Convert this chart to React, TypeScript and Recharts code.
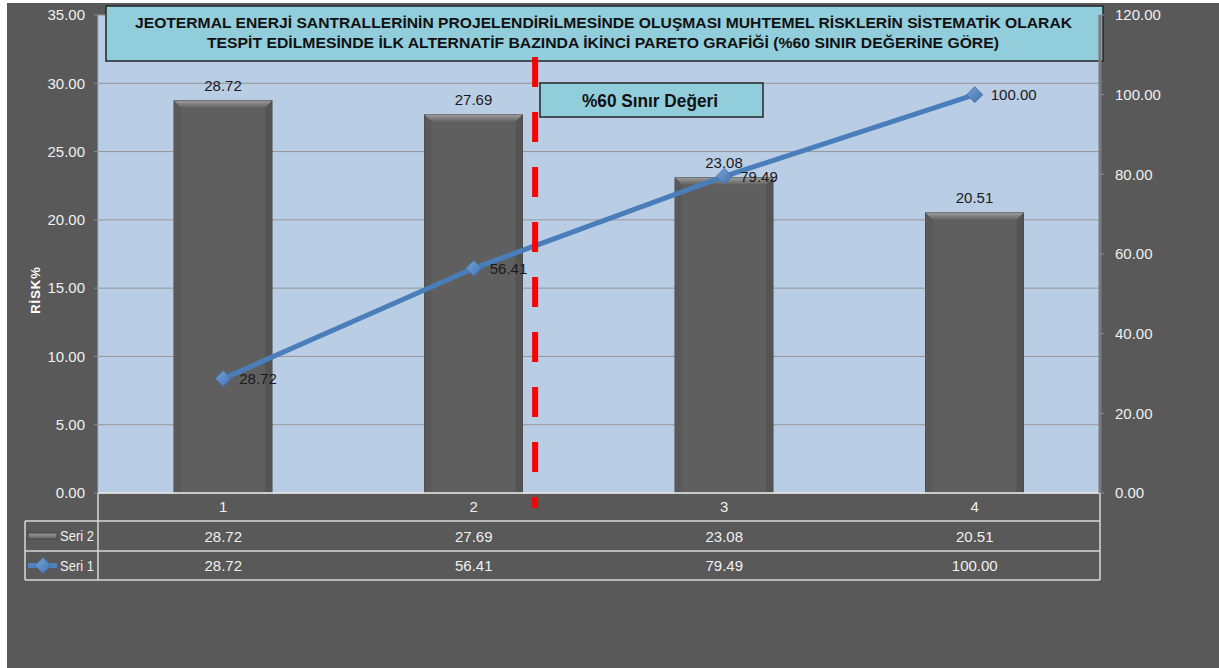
import React from "react";
import {
  ComposedChart,
  Bar,
  Line,
  XAxis,
  YAxis,
  CartesianGrid,
  LabelList,
  ReferenceLine,
  Customized,
} from "recharts";

// chart values
const categories = ["1", "2", "3", "4"];
const seri2 = [28.72, 27.69, 23.08, 20.51];
const seri1 = [28.72, 56.41, 79.49, 100.0];
const leftTicks = [0, 5, 10, 15, 20, 25, 30, 35];
const rightTicks = [0, 20, 40, 60, 80, 100, 120];
const seriesNames = ["Seri 2", "Seri 1"];
const titleLines = [
  "JEOTERMAL ENERJİ SANTRALLERİNİN PROJELENDİRİLMESİNDE OLUŞMASI MUHTEMEL RİSKLERİN SİSTEMATİK OLARAK",
  "TESPİT EDİLMESİNDE  İLK ALTERNATİF BAZINDA İKİNCİ PARETO GRAFİĞİ (%60 SINIR DEĞERİNE GÖRE)",
];
const thresholdLabel = "%60 Sınır Değeri";
// threshold marker position, in category units (0..4)
const thresholdPos = 1.745;

const data = categories.map((c, i) => ({
  name: c,
  idx: i + 0.5,
  seri2: seri2[i],
  seri1: seri1[i],
}));

const W = 1212;
const H = 665;
const AXIS_W = 80;
const X_H = 90;
const margin = { top: 12, right: 39, bottom: 85, left: 11 };
const PL = margin.left + AXIS_W;
const PR = W - margin.right - AXIS_W;
const PB = H - margin.bottom - X_H;

const FONT = "'Liberation Sans', Arial, sans-serif";
const TXT = "#f0f0f0";

const fmt = (v: number) => v.toFixed(2);

const BarShape = (props: any) => {
  const { x, y, width, height } = props;
  if (!height || height <= 0) return null;
  const b = 7;
  return (
    <g>
      <rect x={x} y={y} width={width} height={height} fill="#5f5f5f" stroke="#454545" strokeWidth={1} />
      <polygon
        points={`${x},${y} ${x + width},${y} ${x + width - b},${y + b} ${x + b},${y + b}`}
        fill="url(#bevelTop)"
      />
      <polygon
        points={`${x},${y} ${x + b},${y + b} ${x + b},${y + height} ${x},${y + height}`}
        fill="#595959"
      />
      <polygon
        points={`${x + width},${y} ${x + width - b},${y + b} ${x + width - b},${y + height} ${x + width},${y + height}`}
        fill="#545454"
      />
    </g>
  );
};

const Diamond = (props: any) => {
  const { cx, cy } = props;
  if (cx == null || cy == null) return null;
  const s = 8;
  return (
    <polygon
      key={`d-${cx}`}
      points={`${cx},${cy - s} ${cx + s},${cy} ${cx},${cy + s} ${cx - s},${cy}`}
      fill="url(#diamondFill)"
      stroke="#3d6da5"
      strokeWidth={0.8}
    />
  );
};

const TableTick = (props: any) => {
  const { x, y, payload, index } = props;
  const i = index ?? payload?.index ?? 0;
  return (
    <g fontFamily={FONT} fontSize={15} fill={TXT} textAnchor="middle">
      <text x={x} y={y + 19}>{payload.value}</text>
      <text x={x} y={y + 49}>{fmt(seri2[i])}</text>
      <text x={x} y={y + 78}>{fmt(seri1[i])}</text>
    </g>
  );
};

const Overlay = () => {
  const r1 = PB + 28;
  const r2 = PB + 58;
  const r3 = PB + 87;
  const lx = 18;
  const ln = { stroke: "#d9d9d9", strokeWidth: 1.5 };
  return (
    <g>
      {/* data table frame */}
      <line x1={lx} x2={PR} y1={r1} y2={r1} {...ln} />
      <line x1={lx} x2={PR} y1={r2} y2={r2} {...ln} />
      <line x1={lx} x2={PR} y1={r3} y2={r3} {...ln} />
      <line x1={lx} x2={lx} y1={r1} y2={r3} {...ln} />
      <line x1={PL} x2={PL} y1={PB} y2={r3} {...ln} />
      <line x1={PR} x2={PR} y1={PB} y2={r3} {...ln} />
      {/* legend keys */}
      <rect x={21} y={(r1 + r2) / 2 - 3} width={29} height={6} fill="url(#bevelTop)" stroke="#3f3f3f" strokeWidth={0.8} />
      <line x1={21} x2={50} y1={(r2 + r3) / 2} y2={(r2 + r3) / 2} stroke="#4f81bd" strokeWidth={5} />
      <Diamond cx={36} cy={(r2 + r3) / 2} />
      <g fontFamily={FONT} fontSize={14} fill={TXT}>
        <text x={53} y={(r1 + r2) / 2 + 5} textLength={34} lengthAdjust="spacingAndGlyphs">{seriesNames[0]}</text>
        <text x={53} y={(r2 + r3) / 2 + 5} textLength={34} lengthAdjust="spacingAndGlyphs">{seriesNames[1]}</text>
      </g>
      {/* axis title */}
      <text
        x={0}
        y={0}
        transform="translate(33,287) rotate(-90)"
        textAnchor="middle"
        fontFamily={FONT}
        fontWeight="bold"
        fontSize={13}
        fill="#ffffff"
        letterSpacing={1}
      >
        RİSK%
      </text>
      {/* title box */}
      <rect x={99} y={3} width={997} height={55} fill="#92cddc" stroke="#262626" strokeWidth={1.5} />
      <g fontFamily={FONT} fontWeight="bold" fontSize={15.5} fill="#111" textAnchor="middle">
        <text x={596.5} y={25} textLength={937} lengthAdjust="spacingAndGlyphs">{titleLines[0]}</text>
        <text x={596} y={45} textLength={792} lengthAdjust="spacingAndGlyphs">{titleLines[1]}</text>
      </g>
      {/* threshold label box */}
      <rect x={533} y={80} width={223} height={34} fill="#92cddc" stroke="#262626" strokeWidth={1.5} />
      <text
        x={643}
        y={104}
        textAnchor="middle"
        fontFamily={FONT}
        fontWeight="bold"
        fontSize={19}
        fill="#111"
        textLength={136}
        lengthAdjust="spacingAndGlyphs"
      >
        {thresholdLabel}
      </text>
    </g>
  );
};

export default function App() {
  return (
    <div
      style={{
        position: "absolute",
        left: 7,
        top: 3,
        width: W,
        height: H,
        background: "#595959",
      }}
    >
      <ComposedChart width={W} height={H} data={data} margin={margin}>
        <defs>
          <linearGradient id="bevelTop" x1="0" y1="0" x2="0" y2="1">
            <stop offset="0%" stopColor="#9a9a9a" />
            <stop offset="100%" stopColor="#626262" />
          </linearGradient>
          <linearGradient id="diamondFill" x1="0" y1="0" x2="1" y2="1">
            <stop offset="0%" stopColor="#7aa3d6" />
            <stop offset="100%" stopColor="#3f72b0" />
          </linearGradient>
        </defs>
        <CartesianGrid
          yAxisId="left"
          xAxisId="cat"
          vertical={false}
          stroke="#969696"
          fill="#b9cde5"
          fillOpacity={1}
        />
        <XAxis
          xAxisId="cat"
          dataKey="name"
          height={X_H}
          interval={0}
          tickLine={false}
          tickSize={0}
          tickMargin={0}
          axisLine={{ stroke: "#f2f2f2", strokeWidth: 1.5 }}
          tick={<TableTick />}
        />
        <XAxis
          xAxisId="num"
          dataKey="idx"
          type="number"
          domain={[0, 4]}
          allowDataOverflow
          hide
        />
        <YAxis
          yAxisId="left"
          width={AXIS_W}
          domain={[0, 35]}
          ticks={leftTicks}
          tickFormatter={fmt}
          tickSize={4}
          tickMargin={9}
          tickLine={{ stroke: "#8c8c8c" }}
          axisLine={{ stroke: "#9fb3cc" }}
          tick={{ fill: TXT, fontSize: 15, fontFamily: FONT }}
        />
        <YAxis
          yAxisId="right"
          orientation="right"
          width={AXIS_W}
          domain={[0, 120]}
          ticks={rightTicks}
          tickFormatter={fmt}
          tickSize={4}
          tickMargin={11}
          tickLine={{ stroke: "#8c8c8c" }}
          axisLine={{ stroke: "#7a7a7a", strokeWidth: 3 }}
          tick={{ fill: TXT, fontSize: 15, fontFamily: FONT, textAnchor: "start" }}
        />
        <Bar
          xAxisId="cat"
          yAxisId="left"
          dataKey="seri2"
          barSize={98}
          shape={<BarShape />}
          isAnimationActive={false}
        >
          <LabelList
            dataKey="seri2"
            position="top"
            offset={10}
            formatter={(v: any) => fmt(Number(v))}
            fill="#1a1a1a"
            fontSize={15}
            fontFamily={FONT}
          />
        </Bar>
        <Line
          xAxisId="cat"
          yAxisId="right"
          dataKey="seri1"
          stroke="#4a7ebb"
          strokeWidth={5}
          dot={<Diamond />}
          activeDot={false}
          isAnimationActive={false}
        >
          <LabelList
            dataKey="seri1"
            position="right"
            offset={16}
            formatter={(v: any) => fmt(Number(v))}
            fill="#1a1a1a"
            fontSize={15}
            fontFamily={FONT}
          />
        </Line>
        <ReferenceLine
          xAxisId="num"
          yAxisId="left"
          segment={[
            { x: thresholdPos, y: 31.92 },
            { x: thresholdPos, y: -1.1 },
          ]}
          ifOverflow="visible"
          stroke="#ff0000"
          strokeWidth={6}
          strokeDasharray="30 25"
        />
        <Customized component={<Overlay />} />
      </ComposedChart>
    </div>
  );
}
